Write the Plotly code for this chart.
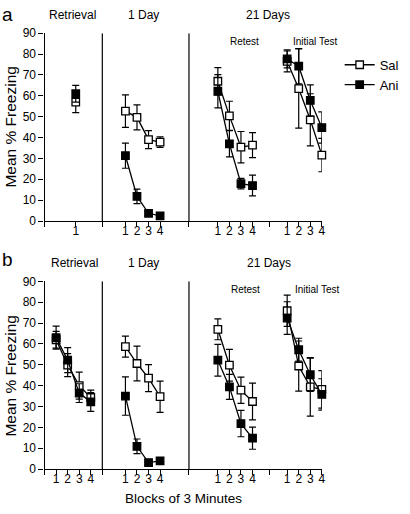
import plotly.graph_objects as go

# ---------------- data ----------------
block_labels = ["1", "2", "3", "4"]
retrieval_a_pos = [2.7]
retrieval_b_pos = [1, 2, 3, 4]
day1_pos = [7, 8, 9, 10]
retest_pos = [15, 16, 17, 18]
initial_pos = [21, 22, 23, 24]

# Panel a
sal_a_retrieval = [57.0]
sal_a_retrieval_err = [5.0]
ani_a_retrieval = [61.0]
ani_a_retrieval_err = [4.0]
sal_a_day1 = [52.7, 49.7, 39.0, 37.8]
sal_a_day1_err = [7.8, 6.0, 4.3, 2.5]
ani_a_day1 = [31.3, 11.8, 3.7, 2.5]
ani_a_day1_err = [6.0, 3.5, 1.0, 0.7]
sal_a_retest = [67.0, 50.4, 35.4, 36.4]
sal_a_retest_err = [6.5, 7.0, 7.5, 6.0]
ani_a_retest = [62.2, 37.0, 17.9, 17.0]
ani_a_retest_err = [8.0, 6.3, 2.5, 5.0]
sal_a_initial = [76.5, 63.5, 48.5, 31.6]
sal_a_initial_err = [5.0, 19.0, 12.5, 8.0]
ani_a_initial = [77.7, 74.2, 57.8, 44.8]
ani_a_initial_err = [4.3, 8.5, 7.5, 7.5]

# Panel b
sal_b_retrieval = [62.0, 49.8, 40.0, 34.3]
sal_b_retrieval_err = [4.0, 5.5, 6.5, 3.5]
ani_b_retrieval = [63.0, 52.2, 36.4, 32.2]
ani_b_retrieval_err = [5.5, 6.0, 4.5, 4.5]
sal_b_day1 = [58.7, 50.6, 43.6, 34.7]
sal_b_day1_err = [5.0, 8.3, 6.5, 7.5]
ani_b_day1 = [35.0, 10.9, 3.1, 3.9]
ani_b_day1_err = [9.2, 3.5, 0.5, 1.5]
sal_b_retest = [67.0, 49.8, 37.8, 32.4]
sal_b_retest_err = [5.0, 7.6, 6.3, 8.8]
ani_b_retest = [52.2, 39.4, 21.8, 14.8]
ani_b_retest_err = [7.6, 6.0, 6.3, 5.3]
sal_b_initial = [75.9, 49.4, 39.4, 38.2]
sal_b_initial_err = [7.5, 12.0, 14.0, 9.0]
ani_b_initial = [72.4, 57.2, 45.2, 35.8]
ani_b_initial_err = [7.8, 5.5, 8.0, 7.5]

separator_pos = [5, 12.5]
extra_tick_pos = [19.5]
y_ticks = list(range(0, 91, 10))

W, H = 410, 514
FONT = "Arial, Liberation Sans, sans-serif"


def join(groups):
    xs, ys, es = [], [], []
    for i, (gx, gy, ge) in enumerate(groups):
        if i:
            xs.append(None); ys.append(None); es.append(0)
        xs += list(gx); ys += list(gy); es += list(ge)
    return xs, ys, es


def add_series(fig, groups, name, filled, xa, ya, showlegend):
    xs, ys, es = join(groups)
    fig.add_trace(go.Scatter(
        x=xs, y=ys, name=name, mode="lines+markers",
        xaxis=xa, yaxis=ya, showlegend=showlegend, cliponaxis=False,
        line=dict(color="black", width=1.3),
        marker=dict(symbol="square", size=7.5,
                    color="black" if filled else "white",
                    line=dict(color="black", width=1.3)),
        error_y=dict(type="data", array=es, visible=True, color="black",
                     thickness=1.2, width=3.5),
    ))


fig = go.Figure()

# Panel a
add_series(fig, [(retrieval_a_pos, sal_a_retrieval, sal_a_retrieval_err),
                 (day1_pos, sal_a_day1, sal_a_day1_err),
                 (retest_pos, sal_a_retest, sal_a_retest_err),
                 (initial_pos, sal_a_initial, sal_a_initial_err)],
           "Sal", False, "x", "y", True)
add_series(fig, [(retrieval_a_pos, ani_a_retrieval, ani_a_retrieval_err),
                 (day1_pos, ani_a_day1, ani_a_day1_err),
                 (retest_pos, ani_a_retest, ani_a_retest_err),
                 (initial_pos, ani_a_initial, ani_a_initial_err)],
           "Ani", True, "x", "y", True)
# Panel b
add_series(fig, [(retrieval_b_pos, sal_b_retrieval, sal_b_retrieval_err),
                 (day1_pos, sal_b_day1, sal_b_day1_err),
                 (retest_pos, sal_b_retest, sal_b_retest_err),
                 (initial_pos, sal_b_initial, sal_b_initial_err)],
           "Sal", False, "x2", "y2", False)
add_series(fig, [(retrieval_b_pos, ani_b_retrieval, ani_b_retrieval_err),
                 (day1_pos, ani_b_day1, ani_b_day1_err),
                 (retest_pos, ani_b_retest, ani_b_retest_err),
                 (initial_pos, ani_b_initial, ani_b_initial_err)],
           "Ani", True, "x2", "y2", False)


def xticks(retrieval_pos):
    vals = [0] + retrieval_pos + separator_pos[:1] + day1_pos + separator_pos[1:] \
        + retest_pos + extra_tick_pos + initial_pos
    text = [""] + (block_labels[:len(retrieval_pos)]) + [""] + block_labels + [""] \
        + block_labels + [""] + block_labels
    return vals, text


def px_x(p):
    return p / W


def px_y(p):
    return 1 - p / H


x_dom = [px_x(45), px_x(325)]
common_x = dict(range=[0, 24], showgrid=False, zeroline=False, showline=True,
                linecolor="black", linewidth=1.2, ticks="outside", ticklen=5,
                tickwidth=1.2, tickcolor="black", tickmode="array",
                ticklabelstandoff=-7,
                tickfont=dict(family=FONT, size=12, color="black"), domain=x_dom)
common_y = dict(range=[0, 90], showgrid=False, zeroline=False, showline=True,
                linecolor="black", linewidth=1.2, ticks="outside", ticklen=5,
                tickwidth=1.2, tickcolor="black", tickmode="array",
                tickvals=y_ticks, ticktext=[str(v) for v in y_ticks],
                tickfont=dict(family=FONT, size=12, color="black"))

tv_a, tt_a = xticks(retrieval_a_pos)
tv_b, tt_b = xticks(retrieval_b_pos)

fig.update_layout(
    width=W, height=H, margin=dict(l=0, r=0, t=0, b=0),
    paper_bgcolor="white", plot_bgcolor="white",
    font=dict(family=FONT, color="black"),
    xaxis=dict(common_x, tickvals=tv_a, ticktext=tt_a, anchor="y"),
    yaxis=dict(common_y, domain=[px_y(220), px_y(27)], anchor="x"),
    xaxis2=dict(common_x, tickvals=tv_b, ticktext=tt_b, anchor="y2"),
    yaxis2=dict(common_y, domain=[px_y(475), px_y(282)], anchor="x2"),
    legend=dict(x=px_x(343), y=px_y(44), xanchor="left", yanchor="top",
                bgcolor="rgba(0,0,0,0)", font=dict(family=FONT, size=13),
                tracegroupgap=0),
    showlegend=True,
)

# separators
for xa, ya in [("x", "y"), ("x2", "y2")]:
    for s in separator_pos:
        fig.add_shape(type="line", xref=xa, yref=ya, x0=s, x1=s, y0=0, y1=90,
                      line=dict(color="black", width=1.2))

ann = []


def text(s, x, y, size, angle=0):
    ann.append(dict(text=s, x=px_x(x), y=px_y(y), xref="paper", yref="paper",
                    showarrow=False, xanchor="center", yanchor="middle",
                    textangle=angle, font=dict(family=FONT, size=size, color="black")))


text("a", 8, 8, 19)
text("b", 8, 260, 19)
text("Retrieval", 73, 8, 12)
text("1 Day", 145, 8, 12)
text("21 Days", 271, 8, 12)
text("Retest", 247, 35, 10)
text("Initial Test", 319, 35, 10)
text("Retrieval", 75, 263, 12)
text("1 Day", 145, 263, 12)
text("21 Days", 272, 263, 12)
text("Retest", 248, 290, 10)
text("Initial Test", 321, 290, 10)
text("Mean % Freezing", 11, 123, 15.5, -90)
text("Mean % Freezing", 11, 379, 15.5, -90)
text("Blocks of 3 Minutes", 185, 505, 13.5)
fig.update_layout(annotations=ann)

fig.write_html("out.html", config={"displayModeBar": False},
               post_script="document.body.style.margin='0';document.body.style.overflow='hidden';")
